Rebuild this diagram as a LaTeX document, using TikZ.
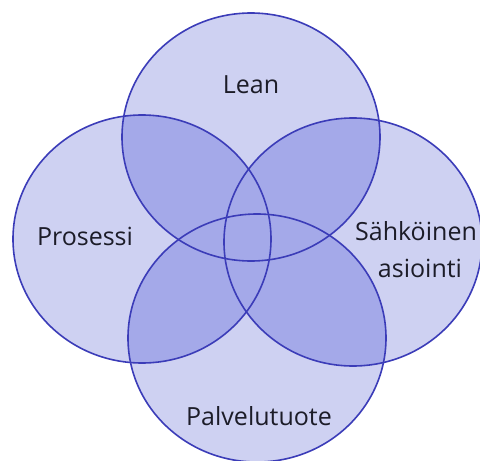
\documentclass[tikz,border=0pt]{standalone}
\usepackage{fontspec}
\setmainfont{Open Sans}
\definecolor{setfill}{HTML}{CED1F2}
\definecolor{overlapfill}{HTML}{A4A9E9}
\definecolor{setline}{HTML}{3B3CB8}
\definecolor{labeltext}{HTML}{1C1C28}
\begin{document}
\begin{tikzpicture}[x=1pt,y=-1pt,
  setlabel/.style={text=labeltext,font=\fontsize{25}{29}\selectfont,inner sep=0pt,align=center},
  setborder/.style={draw=setline,line width=1.6pt}]
\useasboundingbox (0,0) rectangle (480,461);
% ellipse centres and radii of the four sets
\def\rx{129}\def\ry{124}
\def\setA{(251,137) ellipse [x radius=\rx, y radius=\ry]}% Lean
\def\setB{(142,239) ellipse [x radius=\rx, y radius=\ry]}% Prosessi
\def\setC{(353,242) ellipse [x radius=\rx, y radius=\ry]}% Sähköinen asiointi
\def\setD{(257,338) ellipse [x radius=\rx, y radius=\ry]}% Palvelutuote
% base fill
\foreach \s in {\setA,\setB,\setC,\setD} {\fill[setfill] \s;}
% overlaps of any two sets
\foreach \p/\q in {\setA/\setB,\setA/\setC,\setA/\setD,\setB/\setC,\setB/\setD,\setC/\setD} {
  \begin{scope}
    \clip \p;
    \fill[overlapfill] \q;
  \end{scope}
}
% outlines
\foreach \s in {\setA,\setB,\setC,\setD} {\draw[setborder] \s;}
% labels
\node[setlabel,anchor=base] (lean) at (251,93) {Lean};
\node[setlabel,anchor=base] (prosessi) at (85,245) {Prosessi};
\node[setlabel,anchor=base] (sahko) at (416,240) {Sähköinen};
\node[setlabel,anchor=base] (asiointi) at (420,277) {asiointi};
\node[setlabel,anchor=base] (palvelu) at (259,425) {Palvelutuote};
\end{tikzpicture}
\end{document}
